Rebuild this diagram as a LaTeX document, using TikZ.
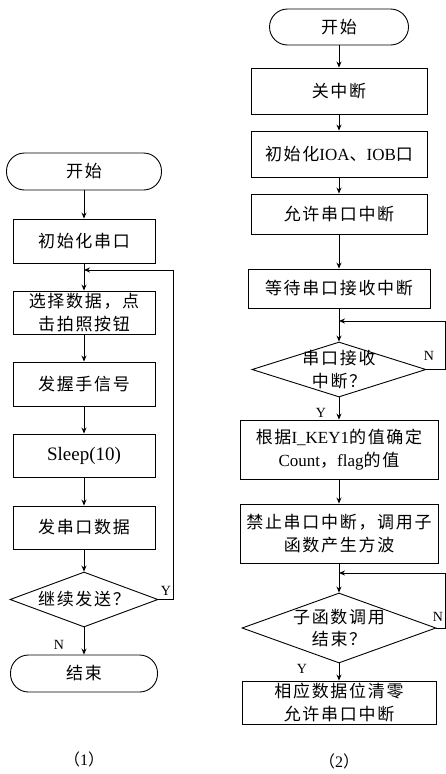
\documentclass[tikz,border=0pt]{standalone}
\usepackage{fontspec}
\setmainfont{Liberation Serif}
\newfontfamily\cjk[LetterSpace=10]{Noto Sans CJK SC}
\newcommand\zh[1]{{\cjk #1}}
\usetikzlibrary{shapes.geometric,arrows.meta}
\tikzset{
  every node/.style={inner sep=0pt},
  box/.style={draw, line width=0.9pt, minimum width=142pt, minimum height=43pt, align=center, font=\fontsize{17}{22.5}\selectfont},
  term/.style={draw, line width=0.9pt, rounded corners=18pt, minimum width=150pt, minimum height=37pt, font=\fontsize{17}{22}\selectfont},
  dia/.style={draw, line width=0.9pt, diamond},
  dtxt/.style={align=center, font=\fontsize{17}{22.5}\selectfont},
  lbl/.style={font=\fontsize{14}{16}\selectfont},
  arr/.style={line width=0.9pt, -{Stealth[length=6pt,width=5pt]}},
  ln/.style={line width=0.9pt},
}
\begin{document}
\begin{tikzpicture}[x=1pt,y=-1pt]
\useasboundingbox (0,0) rectangle (446,774);
% ---------- left chart ----------
\node[term, minimum width=155pt] (s1) at (84,171.5) {\zh{开始}};
\node[box, minimum height=44pt] (b1) at (84,241) {\zh{初始化串口}};
\node[box] (b2) at (84,312.5) {\zh{选择数据，点}\\\zh{击拍照按钮}};
\node[box, minimum height=44pt] (b3) at (84,384) {\zh{发握手信号}};
\node[box] (b4) at (84,455.5) {\fontsize{19}{22}\selectfont Sleep(10)};
\node[box] (b5) at (84,527.5) {\zh{发串口数据}};
\node[dia, minimum width=148pt, minimum height=55pt] (d1) at (84,599.5) {};
\node[dtxt] (t1) at (d1) {\zh{继续发送？}};
\node[term, minimum width=147pt] (e1) at (84,673.5) {\zh{结束}};
\coordinate (c1) at (173,270);
\coordinate (j1) at (84,270);
\draw[arr] (s1) -- (b1);
\draw[arr] (b1) -- (b2);
\draw[arr] (b2) -- (b3);
\draw[arr] (b3) -- (b4);
\draw[arr] (b4) -- (b5);
\draw[arr] (b5) -- (d1);
\draw[arr] (d1) -- (e1);
\draw[arr] (d1.east) -| (c1) -- (j1);
\node[lbl] (y1) at (166,591) {Y};
\node[lbl] (n1) at (59,645) {N};
\node[font=\fontsize{16}{20}\selectfont] (cap1) at (84,759) {\zh{（}1\zh{）}};
% ---------- right chart ----------
\node[term, minimum width=139pt, minimum height=36pt] (s2) at (339,27) {\zh{开始}};
\node[box, minimum width=176pt, minimum height=46pt] (r1) at (339,91) {\zh{关中断}};
\node[box, minimum width=176pt, minimum height=46pt] (r2) at (339,154) {\zh{初始化}IOA\zh{、}IOB\zh{口}};
\node[box, minimum width=176pt, minimum height=40pt] (r3) at (339,214) {\zh{允许串口中断}};
\node[box, minimum width=182pt, minimum height=39pt] (r4) at (339,288.5) {\zh{等待串口接收中断}};
\node[dia, minimum width=174pt, minimum height=55pt] (d2) at (339,369.5) {};
\node[dtxt] (t2) at (d2) {\zh{串口接收}\\\zh{中断？}};
\node[box, minimum width=198pt, minimum height=59pt] (r5) at (339,449.5) {\zh{根据}I\_KEY1\zh{的值确定}\\Count\zh{，}flag\zh{的值}};
\node[box, minimum width=198pt, minimum height=59pt] (r6) at (339,533.5) {\zh{禁止串口中断，调用子}\\\zh{函数产生方波}};
\node[dia, minimum width=194pt, minimum height=70pt] (d3) at (339,628) {};
\node[dtxt] (t3) at (d3) {\zh{子函数调用}\\\zh{结束？}};
\node[box, minimum width=194pt, minimum height=43pt] (r7) at (339,702.5) {\zh{相应数据位清零}\\\zh{允许串口中断}};
\coordinate (c2) at (445,321);
\coordinate (j2) at (339,321);
\coordinate (c3) at (445,573);
\coordinate (j3) at (339,573);
\draw[arr] (s2) -- (r1);
\draw[arr] (r1) -- (r2);
\draw[arr] (r2) -- (r3);
\draw[arr] (r3) -- (r4);
\draw[arr] (r4) -- (d2);
\draw[arr] (d2) -- (r5);
\draw[arr] (r5) -- (r6);
\draw[arr] (r6) -- (d3);
\draw[arr] (d3) -- (r7);
\draw[arr] (d2.east) -| (c2) -- (j2);
\draw[arr] (d3.east) -| (c3) -- (j3);
\node[lbl] (n2) at (429,356) {N};
\node[lbl] (y2) at (321,413) {Y};
\node[lbl] (n3) at (438,617) {N};
\node[lbl] (y3) at (302,669) {Y};
\node[font=\fontsize{16}{20}\selectfont] (cap2) at (339,761) {\zh{（}2\zh{）}};
\end{tikzpicture}
\end{document}
